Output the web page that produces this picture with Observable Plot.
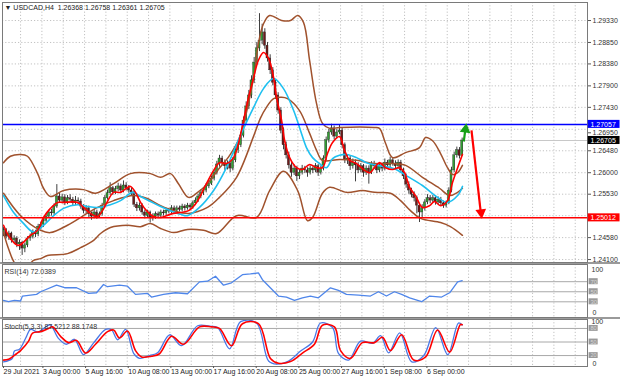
<!DOCTYPE html>
<html><head><meta charset="utf-8">
<script src="https://cdn.jsdelivr.net/npm/d3@7"></script>
<script src="https://cdn.jsdelivr.net/npm/@observablehq/plot@0.6"></script>
<style>
html,body{margin:0;padding:0;background:#fff;}
#chart{position:relative;width:620px;height:381px;background:#9a9a9a;overflow:hidden;}
#chart svg{position:absolute;left:0;}
#strip{position:absolute;left:0;top:378px;width:620px;height:3px;background:#e4e4e4;}
</style></head><body><div id="chart"><div id="strip"></div></div>
<script>
// ---------- DATA ----------
const symbolHeader = "\u25BC USDCAD,H4  1.26368 1.26758 1.26361 1.26705";
const firstOpen = 1.2466;
const closes = [
1.2474,1.2460,1.2467,1.2452,1.2456,1.2443,1.2447,1.2434,1.2441,1.2456,
1.2460,1.2469,1.2465,1.2482,1.2486,1.2495,1.2504,1.2513,1.2511,1.2526,
1.2548,1.2539,1.2546,1.2535,1.2544,1.2541,1.2533,1.2539,1.2537,1.2526,
1.2517,1.2522,1.2509,1.2504,1.2513,1.2504,1.2509,1.2528,1.2544,1.2555,
1.2566,1.2557,1.2564,1.2570,1.2561,1.2572,1.2566,1.2561,1.2557,1.2530,
1.2522,1.2528,1.2513,1.2506,1.2513,1.2500,1.2504,1.2509,1.2506,1.2513,
1.2511,1.2517,1.2515,1.2522,1.2517,1.2522,1.2519,1.2526,1.2522,1.2528,
1.2524,1.2533,1.2539,1.2548,1.2555,1.2561,1.2570,1.2576,1.2587,1.2600,
1.2618,1.2631,1.2622,1.2614,1.2620,1.2609,1.2627,1.2649,1.2660,1.2681,
1.2714,1.2745,1.2769,1.2802,1.2841,1.2872,1.2889,1.2907,1.2878,1.2850,
1.2824,1.2797,1.2769,1.2736,1.2692,1.2660,1.2638,1.2616,1.2600,1.2609,
1.2592,1.2600,1.2609,1.2605,1.2600,1.2609,1.2605,1.2614,1.2600,1.2609,
1.2631,1.2671,1.2688,1.2697,1.2679,1.2688,1.2692,1.2660,1.2627,1.2631,
1.2614,1.2622,1.2616,1.2605,1.2614,1.2600,1.2609,1.2600,1.2618,1.2614,
1.2605,1.2616,1.2609,1.2622,1.2616,1.2627,1.2620,1.2614,1.2622,1.2605,
1.2592,1.2574,1.2561,1.2552,1.2544,1.2528,1.2513,1.2522,1.2535,1.2544,
1.2539,1.2544,1.2535,1.2541,1.2533,1.2528,1.2533,1.2561,1.2605,1.2638,
1.2649,1.2637,1.26705];
const highs = [
1.2480,1.2478,1.2472,1.2470,1.2462,1.2460,1.2453,1.2450,1.2446,1.2460,
1.2466,1.2475,1.2474,1.2487,1.2492,1.2500,1.2510,1.2518,1.2520,1.2532,
1.2574,1.2556,1.2553,1.2552,1.2550,1.2552,1.2546,1.2548,1.2545,1.2542,
1.2530,1.2528,1.2527,1.2514,1.2520,1.2518,1.2514,1.2533,1.2550,1.2562,
1.2578,1.2570,1.2570,1.2577,1.2575,1.2582,1.2578,1.2572,1.2566,1.2560,
1.2535,1.2534,1.2532,1.2518,1.2518,1.2516,1.2510,1.2514,1.2514,1.2518,
1.2518,1.2522,1.2522,1.2528,1.2527,1.2527,1.2527,1.2531,1.2530,1.2533,
1.2532,1.2538,1.2545,1.2553,1.2562,1.2567,1.2576,1.2583,1.2593,1.2606,
1.2625,1.2638,1.2636,1.2628,1.2626,1.2625,1.2633,1.2655,1.2668,1.2688,
1.2722,1.2755,1.2780,1.2812,1.2852,1.2885,1.2948,1.2925,1.2915,1.2885,
1.2858,1.2830,1.2803,1.2775,1.2742,1.2698,1.2667,1.2645,1.2622,1.2617,
1.2614,1.2606,1.2616,1.2614,1.2611,1.2615,1.2613,1.2620,1.2618,1.2615,
1.2637,1.2678,1.2695,1.2706,1.2702,1.2695,1.2705,1.2698,1.2665,1.2638,
1.2636,1.2630,1.2628,1.2622,1.2620,1.2618,1.2615,1.2615,1.2624,1.2625,
1.2620,1.2622,1.2621,1.2630,1.2627,1.2634,1.2633,1.2626,1.2628,1.2627,
1.2610,1.2597,1.2580,1.2566,1.2558,1.2549,1.2533,1.2530,1.2541,1.2552,
1.2550,1.2550,1.2549,1.2547,1.2546,1.2538,1.2538,1.2567,1.2612,1.2645,
1.2656,1.2655,1.26758];
const lows = [
1.2460,1.2455,1.2452,1.2446,1.2445,1.2436,1.2430,1.2419,1.2425,1.2436,
1.2450,1.2455,1.2458,1.2460,1.2476,1.2480,1.2490,1.2500,1.2505,1.2506,
1.2522,1.2533,1.2532,1.2528,1.2530,1.2535,1.2527,1.2528,1.2530,1.2520,
1.2510,1.2510,1.2502,1.2496,1.2499,1.2498,1.2500,1.2505,1.2524,1.2540,
1.2550,1.2550,1.2552,1.2558,1.2555,1.2556,1.2560,1.2555,1.2550,1.2524,
1.2515,1.2516,1.2507,1.2499,1.2500,1.2490,1.2494,1.2498,1.2500,1.2502,
1.2505,1.2506,1.2510,1.2510,1.2512,1.2512,1.2514,1.2514,1.2516,1.2518,
1.2519,1.2520,1.2528,1.2535,1.2543,1.2550,1.2556,1.2565,1.2572,1.2582,
1.2595,1.2612,1.2615,1.2605,1.2606,1.2600,1.2604,1.2622,1.2642,1.2655,
1.2676,1.2708,1.2738,1.2762,1.2795,1.2835,1.2865,1.2880,1.2870,1.2842,
1.2815,1.2790,1.2760,1.2728,1.2685,1.2650,1.2630,1.2608,1.2590,1.2594,
1.2581,1.2585,1.2595,1.2598,1.2590,1.2595,1.2598,1.2600,1.2592,1.2595,
1.2604,1.2626,1.2665,1.2682,1.2672,1.2674,1.2683,1.2652,1.2620,1.2618,
1.2605,1.2608,1.2580,1.2598,1.2600,1.2590,1.2594,1.2575,1.2596,1.2607,
1.2598,1.2600,1.2602,1.2604,1.2610,1.2611,1.2614,1.2606,1.2608,1.2598,
1.2585,1.2566,1.2553,1.2545,1.2536,1.2510,1.2491,1.2500,1.2516,1.2530,
1.2532,1.2533,1.2529,1.2530,1.2527,1.2522,1.2523,1.2530,1.2556,1.2600,
1.2632,1.2630,1.26361];

// indicator lines: [bar position, value]
const maFast = [[0,1.2485],[2.6,1.2456],[5.6,1.2441],[10.1,1.2463],[12.8,1.2474],[15,1.2502],[17.6,1.2522],[20.3,1.2535],[22.5,1.2535],[27.8,1.2535],[30,1.2524],[32.6,1.2511],[35.3,1.2504],[37.1,1.2517],[38.6,1.2533],[41.3,1.2557],[43.9,1.2557],[46.1,1.2566],[47.6,1.2570],[49.5,1.2557],[51.4,1.2535],[53.6,1.2517],[56.3,1.2504],[58.9,1.2502],[61.1,1.2506],[63.8,1.2511],[66.4,1.2513],[69.4,1.2517],[72.4,1.2535],[76.1,1.2576],[78.8,1.2605],[81,1.2622],[83.6,1.2620],[86.3,1.2633],[88.1,1.2664],[90,1.2714],[91.9,1.2765],[93.8,1.2808],[95.6,1.2846],[97.5,1.2863],[99.4,1.2850],[101.3,1.2808],[102.4,1.2765],[104.3,1.2714],[105.4,1.2671],[107.3,1.2633],[109.9,1.2611],[112.1,1.2607],[114.8,1.2618],[117.4,1.2611],[119.6,1.2611],[121.5,1.2642],[123.4,1.2666],[126,1.2679],[127.9,1.2649],[129.8,1.2627],[132.4,1.2620],[134.6,1.2609],[137.3,1.2600],[139.1,1.2611],[141,1.2622],[143.3,1.2611],[145.9,1.2607],[148.5,1.2611],[150.4,1.2600],[152.3,1.2568],[154.5,1.2550],[157.1,1.2524],[159.8,1.2528],[161.6,1.2537],[163.9,1.2528],[166.5,1.2539],[168.4,1.2579],[170.3,1.2611],[172.1,1.2640]];
const maSlow = [[0,1.2550],[3.8,1.2513],[7.5,1.2489],[11.3,1.2470],[15,1.2485],[18.8,1.2506],[22.5,1.2522],[27.8,1.2530],[31.5,1.2526],[35.3,1.2524],[40.1,1.2530],[43.9,1.2539],[48.4,1.2557],[51.4,1.2548],[55.1,1.2537],[58.9,1.2526],[62.6,1.2517],[66.4,1.2509],[69,1.2506],[73.5,1.2524],[78.8,1.2561],[83.6,1.2611],[88.5,1.2677],[93.8,1.2743],[97.5,1.2784],[101.3,1.2806],[105,1.2784],[108.8,1.2736],[111.4,1.2692],[113.6,1.2655],[115.9,1.2633],[118.5,1.2620],[121.1,1.2611],[123.4,1.2631],[126,1.2638],[128.6,1.2640],[132.4,1.2633],[136.1,1.2622],[140.3,1.2616],[146.3,1.2609],[151.5,1.2592],[157.1,1.2572],[162.8,1.2546],[166.5,1.2535],[170.3,1.2550],[172.1,1.2570]];
const bandUpper = [[0,1.2622],[2.6,1.2636],[6.4,1.2640],[9,1.2636],[12.8,1.2598],[15,1.2566],[17.6,1.2548],[22.5,1.2561],[30,1.2563],[34.5,1.2555],[41.3,1.2576],[47.6,1.2598],[55.1,1.2598],[58.9,1.2590],[62.6,1.2598],[65.6,1.2576],[69.4,1.2546],[72.8,1.2557],[76.5,1.2576],[80.3,1.2605],[84.8,1.2638],[88.5,1.2677],[93.8,1.2808],[95.6,1.2883],[97.5,1.2926],[99.8,1.2944],[104.3,1.2933],[107.6,1.2933],[110.3,1.2944],[112.5,1.2929],[114.8,1.2845],[117.4,1.2751],[119.6,1.2708],[122.3,1.2697],[126,1.2699],[139.1,1.2699],[141,1.2697],[143.3,1.2664],[145.9,1.2633],[150.8,1.2644],[156,1.2655],[158.3,1.2677],[160.9,1.2670],[163.9,1.2642],[166.5,1.2611],[168.4,1.2596],[170.3,1.2600],[172.1,1.2616]];
const bandMiddle = [[0,1.2555],[6.4,1.2506],[13.9,1.2474],[17.6,1.2469],[24,1.2485],[30,1.2506],[34.5,1.2522],[41.3,1.2539],[48.8,1.2550],[53.6,1.2544],[58.9,1.2528],[63.8,1.2517],[69.4,1.2511],[76.5,1.2524],[81,1.2546],[87.4,1.2590],[93.8,1.2680],[96.4,1.2720],[98.6,1.2743],[101.3,1.2762],[104.3,1.2765],[106.5,1.2762],[111,1.2736],[114.8,1.2686],[117.4,1.2649],[119.6,1.2627],[126,1.2629],[132.4,1.2627],[139.1,1.2620],[145.9,1.2620],[150.8,1.2616],[157.1,1.2590],[163.5,1.2566],[167.3,1.2550],[170.3,1.2557],[172.1,1.2566]];
const bandLower = [[0,1.2470],[1.5,1.2440],[3.8,1.2406],[6.4,1.2386],[9,1.2395],[11.3,1.2408],[13.9,1.2412],[16.5,1.2419],[24,1.2423],[28.9,1.2436],[33.8,1.2452],[36.4,1.2467],[40.1,1.2480],[46.5,1.2485],[51.4,1.2482],[55.1,1.2489],[58.9,1.2478],[63.8,1.2469],[69,1.2476],[75,1.2474],[79.9,1.2467],[87.4,1.2506],[94.9,1.2502],[99.8,1.2561],[105,1.2603],[110.3,1.2561],[114,1.2495],[115.9,1.2502],[119.6,1.2555],[122.3,1.2568],[128.6,1.2557],[134.6,1.2561],[139.1,1.2557],[145.1,1.2555],[148.9,1.2539],[152.6,1.2517],[156.4,1.2500],[163.9,1.2491],[167.6,1.2482],[172.1,1.2463]];

const rsi = [[0,33],[1.9,30.3],[4.1,33],[6.4,31.6],[7.1,41.5],[12.4,44.8],[13.9,50],[19.9,63],[22.9,58],[27.4,58],[31.9,46.7],[34.9,48],[37.5,64.4],[39,60],[43.5,63],[46.5,61],[49.5,44.8],[54,46.7],[55.5,39.5],[60,44.8],[64.5,48],[69,46],[73.5,69.7],[76.5,71],[79.5,80.8],[82.5,63],[85.5,67.7],[89.6,84],[92.6,85.4],[95.6,87.4],[97.1,74],[103.1,41.5],[106.1,39.5],[109.1,33],[112.1,38],[115.1,41.5],[118.1,38],[122.6,57.9],[125.6,52.6],[128.6,44.8],[133.1,43.4],[137.6,41.5],[140.6,50],[143.6,41.5],[146.6,50],[149.3,44.8],[152.3,38],[156.8,30.3],[159.8,41.5],[164.3,39.5],[167.3,48],[170.3,69.7],[172,72.04]];
const stochMain = [[0,6],[3.2,13],[4.1,30],[6,34],[8.6,62],[10.1,78],[13,72],[16,84],[17.6,88],[20.6,58],[23.6,45],[26.6,56],[30,22],[33.8,48],[38.3,78],[40.5,77],[42.8,55],[45.8,78],[48.8,25],[51,14],[54.8,20],[57.8,26],[62.3,66],[66.8,42],[72.8,86],[77.3,85],[80.3,82],[84.8,35],[88.9,95],[94.9,92],[99.4,8],[102.4,1],[106.9,8],[111.4,30],[115.9,50],[118.9,92],[123.4,82],[125.6,25],[129.4,10],[133.9,52],[138.4,47],[141.4,64],[144.4,26],[148.6,70],[153.1,6],[157.6,20],[162.1,82],[166.6,22],[170.6,92],[172,87.52]];
const stochSignal = [[0,10],[1.9,11.6],[4.9,24],[6.4,31],[9.4,52],[10.9,69.5],[13.9,73],[16.9,80],[18.4,83.5],[21.4,62.6],[24.4,48.6],[27.4,53.5],[30.8,25.6],[34.5,45],[39,73],[41.3,76.5],[43.5,59],[46.5,74.4],[49.5,31],[51.8,17],[55.5,18.6],[58.5,24],[63,62.6],[67.5,45],[73.5,83.5],[78,83.5],[81,80],[85.5,41.6],[89.6,90.5],[95.6,90.5],[100.1,13.7],[103.1,3],[107.6,6.7],[112.1,25.6],[116.6,45],[119.6,87],[124.1,83.5],[126.4,31],[130.1,13.7],[134.6,48.6],[139.1,48.6],[142.1,60.5],[145.1,31],[149.3,66],[153.8,10],[158.3,17],[162.8,76.5],[167.3,27.7],[171.3,88.5],[172,88.17]];

const priceGrid = [1.29330,1.28850,1.28380,1.27900,1.27430,1.26950,1.26480,1.26000,1.25530,1.25060,1.24580,1.24100];
const priceLabels = [1.29330,1.28850,1.28380,1.27900,1.27430,1.26480,1.26000,1.25530,1.24580,1.24100];
const tuckedLabel = 1.26950; // partly hidden under the blue tag in the original
const priceTags = [{v:1.27057, color:"#0000ff"}, {v:1.26705, color:"#000000"}, {v:1.25012, color:"#ff0000"}];
const resistance = 1.27057, support = 1.25012, lastClose = 1.26705;
const dateLabels = ["29 Jul 2021","3 Aug 00:00","5 Aug 16:00","10 Aug 08:00","13 Aug 00:00","17 Aug 16:00","20 Aug 08:00","25 Aug 00:00","27 Aug 16:00","1 Sep 08:00","6 Sep 00:00"];
const dateBars = [-0.375,14.4,30.4,46.4,62.4,78.4,94.4,110.4,126.4,142.4,158.4];
const rsiLevels = [70,50,30];
const stochLevels = [80,50,20];
const rsiTitle = "RSI(14) 72.0389";
const stochTitle = "Stoch(5,3,3) 87.5212 88.1748";
const arrowsFrom = [[172.6,1.26683],[175.5,1.26924]];
const arrowsTo   = [[173.1,1.26902],[178.9,1.25173]];
const arrowHeads = [[173.25,1.26946,8],[179.1,1.25130,173]];
const arrowColors = ["#16a016","#ff0000"];

// ---------- BUILD ----------
const W = 620;
const xDomain = [-0.375, 219];
const xmax = xDomain[1];
const gridBars = d3.range(6.4, 218, 8);
const style = {fontFamily: "'Liberation Sans', Arial, sans-serif", fontSize: "7px", color: "#222", background: "#ffffff", overflow: "visible"};
const dotted = {stroke: "#c2c2c2", strokeDasharray: "1.2,2"};

const bars = closes.map((c, i) => ({i, o: i === 0 ? firstOpen : closes[i-1], h: highs[i], l: lows[i], c}));
const lineOpts = (stroke, w) => ({x: d => d[0], y: d => d[1], stroke, strokeWidth: w, curve: "catmull-rom", clip: true});

const main = Plot.plot({
  width: W, height: 262, marginTop: 2, marginBottom: 0, marginLeft: 2, marginRight: 33,
  x: {domain: xDomain, axis: null},
  y: {domain: [1.240354, 1.297242], axis: null},
  color: {type: "identity"},
  style,
  marks: [
    Plot.ruleX(gridBars, dotted),
    Plot.ruleY(priceGrid, dotted),
    Plot.ruleY([lastClose], {stroke: "#c8c8c8"}),
    Plot.ruleX(bars, {x: "i", y1: "l", y2: "h", stroke: "#2a2a2a", strokeWidth: 0.9, clip: true}),
    Plot.rect(bars, {x1: d => d.i - 0.38, x2: d => d.i + 0.38, y1: "o", y2: d => Math.abs(d.c - d.o) < 0.00005 ? d.o + 0.00006 : d.c,
      fill: d => d.c >= d.o ? "#33a033" : "#6e1a1a", stroke: "#1e1e1e", strokeWidth: 0.35, clip: true}),
    Plot.line(bandUpper, lineOpts("#a0522d", 1.5)),
    Plot.line(bandMiddle, lineOpts("#a0522d", 1.5)),
    Plot.line(bandLower, lineOpts("#a0522d", 1.5)),
    Plot.line(maSlow, lineOpts("#1ec0f0", 1.6)),
    Plot.line(maFast, lineOpts("#ff0000", 1.6)),
    Plot.ruleY([resistance], {stroke: "#0000ff", strokeWidth: 1.5}),
    Plot.ruleY([support], {stroke: "#ff0000", strokeWidth: 1.5}),
    Plot.link(arrowsFrom.map((f, k) => ({f, t: arrowsTo[k], c: arrowColors[k]})), {x1: d => d.f[0], y1: d => d.f[1], x2: d => d.t[0], y2: d => d.t[1], stroke: d => d.c, strokeWidth: 2.2}),
    Plot.dot(arrowHeads.map((h, k) => ({h, c: arrowColors[k]})), {x: d => d.h[0], y: d => d.h[1], rotate: d => d.h[2], symbol: "triangle", r: 4, fill: d => d.c, stroke: "none"}),
    Plot.frame({stroke: "#7a7a7a"}),
    Plot.axisY(priceLabels, {anchor: "right", tickSize: 3, tickPadding: 2, tickFormat: d => d.toFixed(5), stroke: "#555", fill: "#333"}),
    Plot.axisY([1.25060], {anchor: "right", tickSize: 3, tickFormat: () => "", stroke: "#555"}),
    Plot.axisY([tuckedLabel], {anchor: "right", tickSize: 3, tickPadding: 2, tickFormat: d => d.toFixed(5), stroke: "#555", fill: "#333", dy: 3.5}),
    Plot.rect(priceTags, {x1: xmax + 0.25, x2: xmax + 12.2, y1: d => d.v - 0.00088, y2: d => d.v + 0.00088, fill: d => d.color}),
    Plot.text(priceTags, {x: xmax, y: "v", text: d => d.v.toFixed(5), dx: 3, textAnchor: "start", fill: "#ffffff"}),
    Plot.text([symbolHeader], {frameAnchor: "top-left", dx: 2, dy: 3, textAnchor: "start", fill: "#222"})
  ]
});

const rsiPlot = Plot.plot({
  width: W, height: 53, marginTop: 0, marginBottom: 0, marginLeft: 2, marginRight: 33,
  x: {domain: xDomain, axis: null},
  y: {domain: [-1.2, 104.2], axis: null},
  style,
  marks: [
    Plot.ruleX(gridBars, dotted),
    Plot.ruleY(rsiLevels, {stroke: "#a8a8a8"}),
    Plot.line(rsi, {x: d => d[0], y: d => d[1], stroke: "#4f86ea", strokeWidth: 1.3}),
    Plot.frame({stroke: "#7a7a7a"}),
    Plot.text([rsiTitle], {frameAnchor: "top-left", dx: 2, dy: 5, textAnchor: "start", fill: "#333"}),
    Plot.text([100], {x: xmax, y: d => d, dx: 4, dy: 3, text: d => String(d), textAnchor: "start", fill: "#333"}),
    Plot.text([0], {x: xmax, y: d => d, dx: 5, dy: -4, text: d => String(d), textAnchor: "start", fill: "#333"}),
    Plot.rect(rsiLevels, {x1: xmax + 0.6, x2: xmax + 4, y1: d => d - 6, y2: d => d + 6, fill: "#9a9a9a"}),
    Plot.text(rsiLevels, {x: xmax, y: d => d, dx: 3, text: d => String(d), textAnchor: "start", fill: "#d8d8d8", fontSize: 6})
  ]
});

const stochPlot = Plot.plot({
  width: W, height: 62, marginTop: 0, marginBottom: 15, marginLeft: 2, marginRight: 33,
  x: {domain: xDomain, axis: null},
  y: {domain: [-4.2, 99.8], axis: null},
  style,
  marks: [
    Plot.ruleX(gridBars, dotted),
    Plot.ruleY(stochLevels, {stroke: "#a8a8a8"}),
    Plot.line(stochMain, {x: d => d[0], y: d => d[1], stroke: "#4a78e6", strokeWidth: 1.3, curve: "catmull-rom", clip: true}),
    Plot.line(stochSignal, {x: d => d[0], y: d => d[1], stroke: "#ff0000", strokeWidth: 1.6, curve: "catmull-rom", clip: true}),
    Plot.frame({stroke: "#7a7a7a"}),
    Plot.text([stochTitle], {frameAnchor: "top-left", dx: 2, dy: 5, textAnchor: "start", fill: "#333"}),
    Plot.text([100], {x: xmax, y: d => d, dx: 4, dy: 2, text: d => String(d), textAnchor: "start", fill: "#333"}),
    Plot.text([0], {x: xmax, y: d => d, dx: 5, dy: -1, text: d => String(d), textAnchor: "start", fill: "#333"}),
    Plot.rect(stochLevels, {x1: xmax + 0.6, x2: xmax + 4, y1: d => d - 6.5, y2: d => d + 6.5, fill: "#9a9a9a"}),
    Plot.text(stochLevels, {x: xmax, y: d => d, dx: 3, text: d => String(d), textAnchor: "start", fill: "#d8d8d8", fontSize: 5.5}),
    Plot.axisX(dateBars, {anchor: "bottom", tickSize: 2, tickPadding: 1, textAnchor: "start", dx: 1, stroke: "#555", fill: "#222",
      tickFormat: d => dateLabels[dateBars.indexOf(d)]})
  ]
});

const root = document.getElementById("chart");
[[main, 0], [rsiPlot, 264], [stochPlot, 319]].forEach(([svg, top]) => {
  svg.style.top = top + "px";
  root.appendChild(svg);
});
</script>
</body></html>
